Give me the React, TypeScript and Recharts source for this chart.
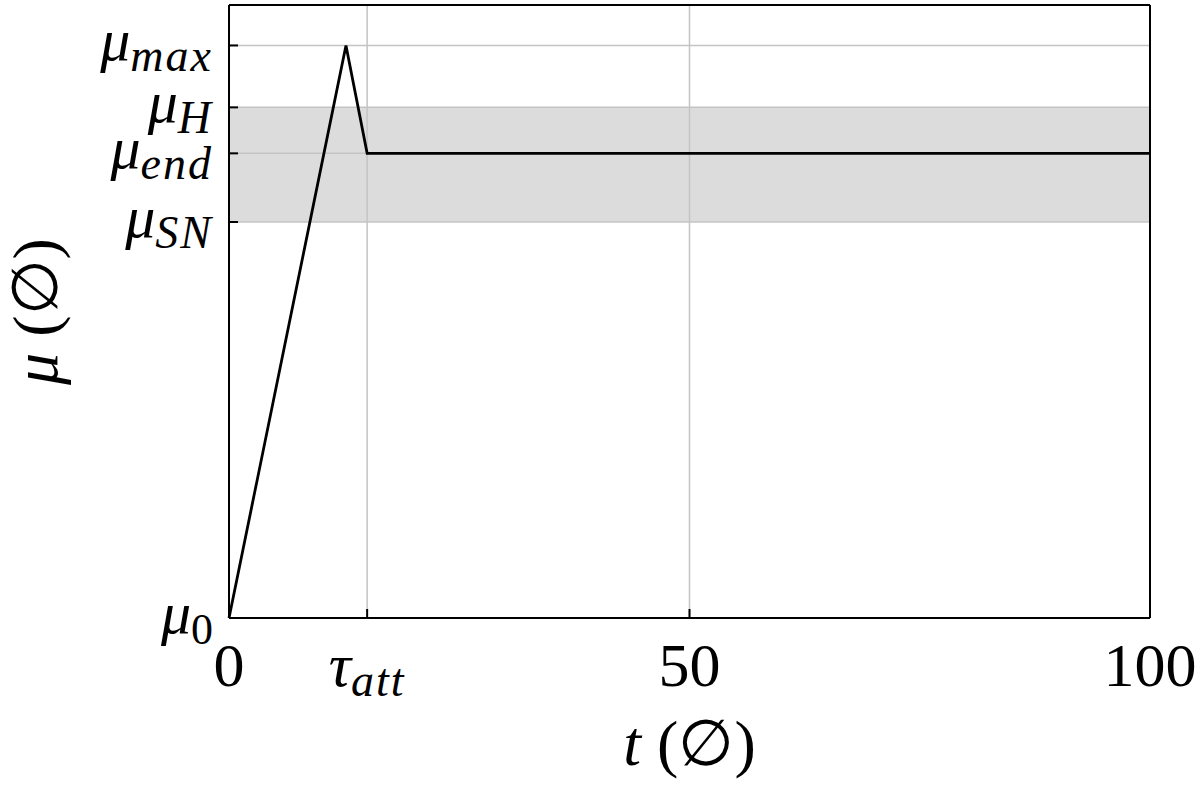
import { LineChart, Line, XAxis, YAxis, ReferenceArea, ReferenceLine, Label } from 'recharts';

// time axis (normalised, 0..100) and the friction-like curve mu(t)
const tValues = [0, 12.7, 15, 100];
const muValues = [0, 0.934, 0.758, 0.758];

const xTicks = [0, 15, 50, 100];
const xTickLabels: [string, string][] = [['0', ''], ['τ', 'att'], ['50', ''], ['100', '']];

const yTicks = [0, 0.646, 0.758, 0.833, 0.934];
const yTickLabels: [string, string][] = [['μ', '0'], ['μ', 'SN'], ['μ', 'end'], ['μ', 'H'], ['μ', 'max']];

// shaded band between mu_SN and mu_H
const bandLow = 0.646;
const bandHigh = 0.833;

const data = tValues.map((t, i) => ({ t, mu: muValues[i] }));

const FONT = '"Liberation Serif", "DejaVu Serif", serif';
const GRID = '#c4c4c4';
const TICK_LEN = 9;
const Y_MARGIN = 16;

const isNum = (s: string) => /^[0-9]+$/.test(s);

const LeftTick = (props: any) => {
    const { x, y, payload } = props;
    const idx = yTicks.indexOf(payload.value);
    const [main, sub] = yTickLabels[idx] || ['', ''];
    const ax = x + Y_MARGIN;
    return (
        <g>
            <line x1={ax} x2={ax + TICK_LEN} y1={y} y2={y} stroke="#000" strokeWidth={2} />
            <text x={x} y={y + 15} textAnchor="end" fontFamily={FONT} fill="#000">
                <tspan fontSize={60} fontStyle="italic">{main}</tspan>
                <tspan
                    fontSize={isNum(sub) ? 44 : 46}
                    dy={11}
                    letterSpacing={isNum(sub) ? 0 : 2}
                    fontStyle={isNum(sub) ? 'normal' : 'italic'}
                >
                    {sub}
                </tspan>
            </text>
        </g>
    );
};

const BottomTick = (props: any) => {
    const { x, y, payload } = props;
    const idx = xTicks.indexOf(payload.value);
    const [main, sub] = xTickLabels[idx] || ['', ''];
    return (
        <g>
            <line x1={x} x2={x} y1={y} y2={y - TICK_LEN} stroke="#000" strokeWidth={2} />
            <text x={x} y={y + 68} textAnchor="middle" fontFamily={FONT} fill="#000">
                <tspan fontSize={62} fontStyle={isNum(main) ? 'normal' : 'italic'}>{main}</tspan>
                {sub && <tspan fontSize={46} dy={10} letterSpacing={2} fontStyle="italic">{sub}</tspan>}
            </text>
        </g>
    );
};

const RightTick = (props: any) => {
    const { x, y } = props;
    return <line x1={x} x2={x - TICK_LEN} y1={y} y2={y} stroke="#000" strokeWidth={2} />;
};

const TopTick = (props: any) => {
    const { x, y } = props;
    return <line x1={x} x2={x} y1={y} y2={y + TICK_LEN} stroke="#000" strokeWidth={2} />;
};

export default function App() {
    return (
        <div style={{ position: 'absolute', left: 0, top: 0, width: 1200, height: 788, background: '#fff' }}>
            <LineChart width={1200} height={788} data={data} margin={{ top: 0, right: 0, bottom: 0, left: 0 }}>
                <XAxis
                    dataKey="t"
                    type="number"
                    domain={[0, 100]}
                    ticks={xTicks}
                    height={170}
                    tickSize={0}
                    tickMargin={0}
                    tickLine={false}
                    axisLine={{ stroke: '#000', strokeWidth: 2 }}
                    tick={<BottomTick />}
                    interval={0}
                >
                    <Label
                        content={({ viewBox }: any) => (
                            <text
                                x={viewBox.x + viewBox.width / 2}
                                y={viewBox.y + 147}
                                textAnchor="middle"
                                fontFamily={FONT}
                                fontSize={64}
                                fill="#000"
                            >
                                <tspan fontStyle="italic">t</tspan>
                                <tspan> (∅)</tspan>
                            </text>
                        )}
                    />
                </XAxis>
                <XAxis
                    xAxisId="top"
                    orientation="top"
                    type="number"
                    domain={[0, 100]}
                    ticks={xTicks}
                    height={5}
                    tickSize={0}
                    tickMargin={0}
                    tickLine={false}
                    axisLine={{ stroke: '#000', strokeWidth: 2 }}
                    tick={<TopTick />}
                    interval={0}
                />
                <YAxis
                    type="number"
                    domain={[0, 1]}
                    ticks={yTicks}
                    width={229}
                    tickSize={0}
                    tickMargin={Y_MARGIN}
                    tickLine={false}
                    axisLine={{ stroke: '#000', strokeWidth: 2 }}
                    tick={<LeftTick />}
                    interval={0}
                >
                    <Label
                        content={({ viewBox }: any) => {
                            const cx = viewBox.x + 57;
                            const cy = viewBox.y + viewBox.height / 2;
                            return (
                                <text
                                    x={cx}
                                    y={cy}
                                    transform={`rotate(-90 ${cx} ${cy})`}
                                    textAnchor="middle"
                                    fontFamily={FONT}
                                    fontSize={64}
                                    fill="#000"
                                >
                                    <tspan fontStyle="italic">μ</tspan>
                                    <tspan> (∅)</tspan>
                                </text>
                            );
                        }}
                    />
                </YAxis>
                <YAxis
                    yAxisId="right"
                    orientation="right"
                    type="number"
                    domain={[0, 1]}
                    ticks={yTicks}
                    width={50}
                    tickSize={0}
                    tickMargin={0}
                    tickLine={false}
                    axisLine={{ stroke: '#000', strokeWidth: 2 }}
                    tick={<RightTick />}
                    interval={0}
                />
                <ReferenceArea x1={0} x2={100} y1={bandLow} y2={bandHigh} fill="#dcdcdc" fillOpacity={1} stroke="none" />
                {yTicks.slice(1).map((v) => (
                    <ReferenceLine key={`h-${v}`} y={v} stroke={GRID} strokeWidth={1.5} />
                ))}
                {xTicks.slice(1, 3).map((v) => (
                    <ReferenceLine key={`v-${v}`} x={v} stroke={GRID} strokeWidth={1.5} />
                ))}
                <Line
                    type="linear"
                    dataKey="mu"
                    stroke="#000"
                    strokeWidth={2.8}
                    dot={false}
                    isAnimationActive={false}
                />
            </LineChart>
        </div>
    );
}
